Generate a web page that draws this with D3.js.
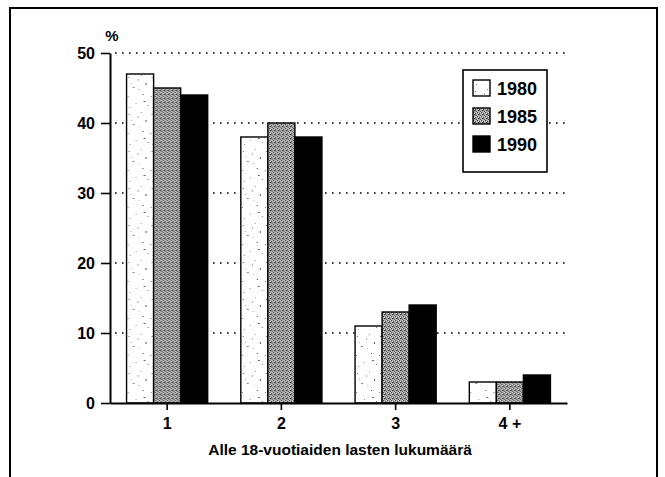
<!DOCTYPE html>
<html>
<head>
<meta charset="utf-8">
<script src="https://cdn.jsdelivr.net/npm/d3@7"></script>
<style>
  html, body { margin: 0; padding: 0; background: #fff; }
  svg { display: block; }
  text { font-family: "Liberation Sans", Arial, Helvetica, sans-serif; fill: #000; }
</style>
</head>
<body>
<svg id="chart" width="665" height="477"></svg>
<script>
// ---- data ----
const categories = ["1", "2", "3", "4 +"];
const years = ["1980", "1985", "1990"];
const values1980 = [47, 38, 11, 3];
const values1985 = [45, 40, 13, 3];
const values1990 = [44, 38, 14, 4];
const yTicks = [0, 10, 20, 30, 40, 50];
const gridTicks = [10, 20, 30, 40, 50];
const xTitle = "Alle 18-vuotiaiden lasten lukumäärä";
const yUnit = "%";

const seriesValues = { "1980": values1980, "1985": values1985, "1990": values1990 };

const svg = d3.select("#chart");

// ---- patterns ----
const defs = svg.append("defs");
// 1980: white with sparse, irregular speckles
const p80 = defs.append("pattern").attr("id", "p1980")
  .attr("patternUnits", "userSpaceOnUse").attr("width", 23).attr("height", 37);
p80.append("rect").attr("width", 23).attr("height", 37).attr("fill", "#fff");
[[2,3,1,1,"#666"],[14,1,1,1,"#999"],[19,9,1,2,"#555"],[6,13,2,1,"#888"],[1,22,1,1,"#777"],
 [16,20,1,1,"#444"],[9,29,1,1,"#999"],[21,31,1,1,"#777"],[4,9,1,1,"#aaa"],[12,15,1,1,"#bbb"],
 [17,27,2,1,"#666"],[3,33,1,1,"#888"],[11,5,1,2,"#aaa"]]
  .forEach(d => p80.append("rect").attr("x", d[0]).attr("y", d[1]).attr("width", d[2]).attr("height", d[3]).attr("fill", d[4]));
// 1985: dense stipple
const p85 = defs.append("pattern").attr("id", "p1985")
  .attr("patternUnits", "userSpaceOnUse").attr("width", 4).attr("height", 4);
p85.append("rect").attr("width", 4).attr("height", 4).attr("fill", "#a8a8a8");
[[0,0,"#333"],[2,1,"#444"],[1,2,"#222"],[3,3,"#555"],[3,0,"#ddd"],[1,1,"#e8e8e8"],[0,3,"#ccc"],[2,2,"#777"]]
  .forEach(d => p85.append("rect").attr("x", d[0]).attr("y", d[1]).attr("width", 1).attr("height", 1).attr("fill", d[2]));

const fills = { "1980": "url(#p1980)", "1985": "url(#p1985)", "1990": "#000" };

// ---- frame ----
svg.append("path")
  .attr("d", "M10,477 L10,8 L657,8 L657,477")
  .attr("fill", "none").attr("stroke", "#000").attr("stroke-width", 2);

// ---- scales ----
const y = d3.scaleLinear().domain([0, 50]).range([403, 53]);
const pi = 0.29;
const x0 = d3.scaleBand().domain(categories).range([110, 567])
  .paddingInner(pi).paddingOuter(pi / 2);
const x1 = d3.scaleBand().domain(years).range([0, x0.bandwidth()]);

// ---- gridlines ----
svg.append("g").selectAll("line").data(gridTicks).join("line")
  .attr("x1", 115).attr("x2", 568)
  .attr("y1", d => y(d)).attr("y2", d => y(d))
  .attr("stroke", "#000").attr("stroke-width", 1.6)
  .attr("stroke-dasharray", "1.6,5.4");

// ---- bars ----
const groups = svg.append("g").selectAll("g").data(categories).join("g")
  .attr("transform", d => `translate(${x0(d)},0)`);
groups.selectAll("rect")
  .data((c, i) => years.map(yr => ({ yr, v: seriesValues[yr][i] })))
  .join("rect")
  .attr("x", d => x1(d.yr))
  .attr("width", x1.bandwidth())
  .attr("y", d => y(d.v))
  .attr("height", d => y(0) - y(d.v))
  .attr("fill", d => fills[d.yr])
  .attr("stroke", "#000").attr("stroke-width", 1.4);

// ---- y axis ----
const yAxis = svg.append("g").attr("transform", "translate(110,0)")
  .call(d3.axisLeft(y).tickValues(yTicks).tickSize(9).tickSizeOuter(0).tickPadding(6));
yAxis.select(".domain").attr("stroke-width", 2);
yAxis.selectAll(".tick line").attr("stroke-width", 1.6);
yAxis.selectAll(".tick text")
  .style("font-family", "'Liberation Sans', Arial, sans-serif")
  .style("font-weight", "bold").style("font-size", "16px").attr("fill", "#000");

// ---- x axis ----
const xAxis = svg.append("g").attr("transform", "translate(0,403)")
  .call(d3.axisBottom(x0).tickSize(7).tickSizeOuter(0).tickPadding(8));
xAxis.select(".domain").attr("stroke-width", 2);
xAxis.selectAll(".tick line").attr("stroke-width", 1.6);
xAxis.selectAll(".tick text")
  .style("font-family", "'Liberation Sans', Arial, sans-serif")
  .style("font-weight", "bold").style("font-size", "16px").attr("fill", "#000");

// ---- titles ----
svg.append("text").attr("x", 112).attr("y", 41).attr("text-anchor", "middle")
  .style("font-weight", "bold").style("font-size", "15px").text(yUnit);
svg.append("text").attr("x", 340).attr("y", 455).attr("text-anchor", "middle")
  .style("font-weight", "bold").style("font-size", "15.5px").text(xTitle);

// ---- legend ----
const legend = svg.append("g");
legend.append("rect").attr("x", 463).attr("y", 70).attr("width", 84).attr("height", 102)
  .attr("fill", "#fff").attr("stroke", "#000").attr("stroke-width", 1.6);
const ly = d3.scalePoint().domain(years).range([88, 144]);
const li = legend.selectAll("g.item").data(years).join("g").attr("class", "item")
  .attr("transform", d => `translate(473,${ly(d)})`);
li.append("rect").attr("x", 0).attr("y", -8).attr("width", 17).attr("height", 16)
  .attr("fill", d => fills[d]).attr("stroke", "#000").attr("stroke-width", 1.4);
li.append("text").attr("x", 24).attr("y", 7)
  .style("font-weight", "bold").style("font-size", "18px").text(d => d);
</script>
</body>
</html>
